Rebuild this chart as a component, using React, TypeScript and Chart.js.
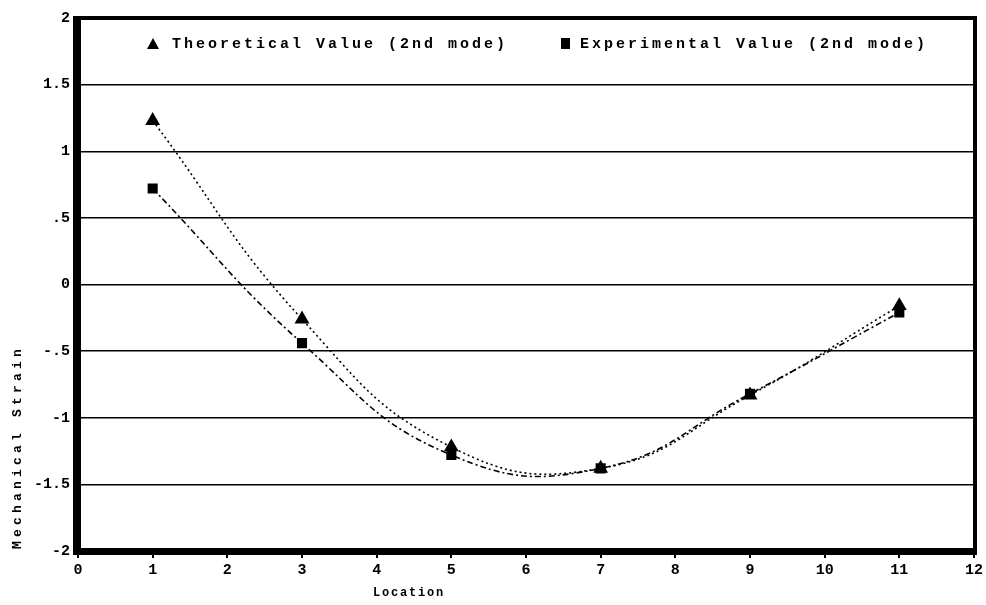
import React, { useEffect, useRef } from "react";
import { Chart, registerables } from "chart.js";

Chart.register(...registerables);

const locations = [1, 3, 5, 7, 9, 11];
const theoretical = [1.23, -0.26, -1.22, -1.38, -0.83, -0.16];
const experimental = [0.72, -0.44, -1.28, -1.38, -0.82, -0.21];
const legendLabels = ["Theoretical Value (2nd mode)", "Experimental Value (2nd mode)"];
const yTickLabels: Record<string, string> = {
  "2": "2", "1.5": "1.5", "1": "1", "0.5": ".5", "0": "0",
  "-0.5": "-.5", "-1": "-1", "-1.5": "-1.5", "-2": "-2",
};
const xTitle = "Location";
const yTitle = "Mechanical Strain";

const FONT = '"Liberation Mono", "DejaVu Sans Mono", monospace';

const framePlugin = {
  id: "frame",
  afterDraw(chart: any) {
    const { ctx, chartArea: a } = chart;
    ctx.save();
    ctx.fillStyle = "#000";
    ctx.fillRect(a.left - 5, a.top - 2, 8, a.bottom - a.top + 6);
    ctx.fillRect(a.left - 5, a.bottom - 3, a.right - a.left + 8, 7);
    ctx.fillRect(a.left - 5, a.top - 2, a.right - a.left + 8, 4);
    ctx.fillRect(a.right - 1, a.top - 2, 4, a.bottom - a.top + 6);

    // legend inside plot
    ctx.font = `bold 15px ${FONT}`;
    (ctx as any).letterSpacing = "3px";
    ctx.textBaseline = "middle";
    ctx.textAlign = "left";
    const ly = 44;
    ctx.beginPath();
    ctx.moveTo(153, ly - 6);
    ctx.lineTo(159, ly + 5);
    ctx.lineTo(147, ly + 5);
    ctx.closePath();
    ctx.fill();
    ctx.fillText(legendLabels[0], 172, ly);
    ctx.fillRect(561, ly - 6, 9, 11);
    ctx.fillText(legendLabels[1], 580, ly);

    // axis titles
    ctx.font = `bold 12px ${FONT}`;
    (ctx as any).letterSpacing = "1.8px";
    ctx.textAlign = "center";
    ctx.fillText(xTitle, 409, 593);
    ctx.font = `bold 13px ${FONT}`;
    (ctx as any).letterSpacing = "4.2px";
    ctx.translate(18, 447);
    ctx.rotate(-Math.PI / 2);
    ctx.fillText(yTitle, 0, 0);
    ctx.restore();
  },
};

export default function App() {
  const ref = useRef<HTMLCanvasElement>(null);
  useEffect(() => {
    const chart = new Chart(ref.current!, {
      type: "scatter",
      data: {
        datasets: [
          {
            label: legendLabels[0],
            data: locations.map((x, i) => ({ x, y: theoretical[i] })),
            showLine: true,
            borderColor: "#000",
            backgroundColor: "#000",
            borderWidth: 1.6,
            borderDash: [2, 3],
            tension: 0.45,
            pointStyle: "triangle",
            pointRadius: 7,
          },
          {
            label: legendLabels[1],
            data: locations.map((x, i) => ({ x, y: experimental[i] })),
            showLine: true,
            borderColor: "#000",
            backgroundColor: "#000",
            borderWidth: 1.6,
            borderDash: [6, 3, 2, 3],
            tension: 0.45,
            pointStyle: "rect",
            pointRadius: 6,
          },
        ],
      },
      options: {
        responsive: false,
        animation: false,
        layout: { padding: { top: 18, right: 8, left: 0, bottom: 0 } },
        plugins: { legend: { display: false }, tooltip: { enabled: false } },
        scales: {
          x: {
            type: "linear",
            min: 0,
            max: 12,
            afterFit(s: any) { s.height = 54; },
            border: { display: false },
            grid: { drawOnChartArea: false, drawTicks: true, tickLength: 7, color: "#000", lineWidth: 2 },
            ticks: {
              stepSize: 1,
              color: "#000",
              font: { family: FONT, size: 15, weight: "bold" },
              padding: 3,
              maxRotation: 0,
            },
          },
          y: {
            min: -2,
            max: 2,
            afterFit(s: any) { s.width = 78; },
            border: { display: false },
            grid: { color: "#000", lineWidth: 1.5, drawTicks: false },
            ticks: {
              stepSize: 0.5,
              color: "#000",
              padding: 8,
              font: { family: FONT, size: 15, weight: "bold" },
              callback: (v: any) => yTickLabels[String(v)] ?? String(v),
            },
          },
        },
      },
      plugins: [framePlugin],
    });
    return () => chart.destroy();
  }, []);
  return (
    <div style={{ position: "absolute", left: 0, top: 0, width: 986, height: 605, background: "#fff" }}>
      <canvas ref={ref} width={986} height={605} />
    </div>
  );
}
